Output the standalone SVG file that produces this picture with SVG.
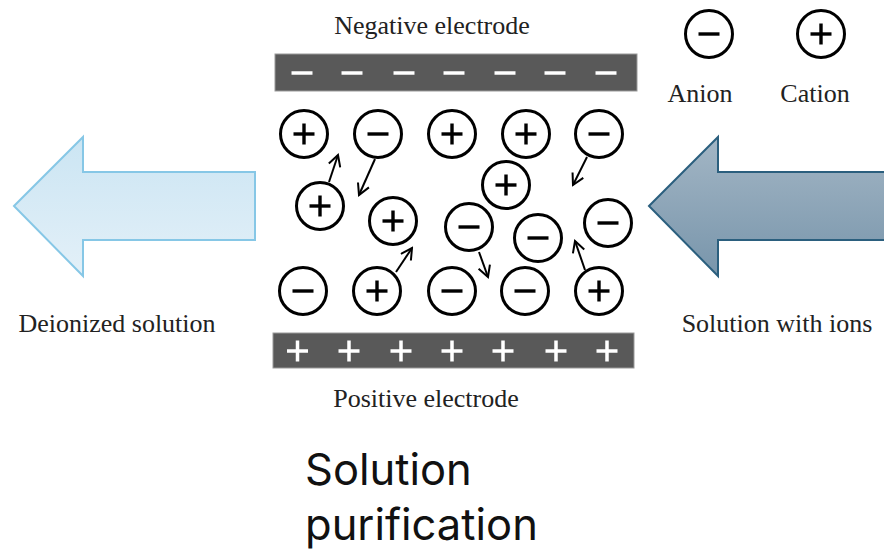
<svg xmlns="http://www.w3.org/2000/svg" width="884" height="549" viewBox="0 0 884 549">
  <defs>
    <linearGradient id="gLight" x1="0" y1="0" x2="0" y2="1">
      <stop offset="0" stop-color="#cbe5f3"/>
      <stop offset="1" stop-color="#e3f0f8"/>
    </linearGradient>
    <linearGradient id="gDark" x1="0" y1="0" x2="0" y2="1">
      <stop offset="0" stop-color="#a3b6c5"/>
      <stop offset="1" stop-color="#7895ab"/>
    </linearGradient>
    <marker id="head" viewBox="0 0 14 14" refX="12" refY="7" markerWidth="14" markerHeight="14" markerUnits="userSpaceOnUse" orient="auto">
      <path d="M1,1 L12,7 L1,13" fill="none" stroke="#000" stroke-width="2"/>
    </marker>
    <g id="anion">
      <circle r="23.5" fill="#fff" stroke="#000" stroke-width="3"/>
      <line x1="-10.5" y1="0" x2="10.5" y2="0" stroke="#000" stroke-width="3.4"/>
    </g>
    <g id="cation">
      <circle r="23.5" fill="#fff" stroke="#000" stroke-width="3"/>
      <line x1="-10.5" y1="0" x2="10.5" y2="0" stroke="#000" stroke-width="3.4"/>
      <line x1="0" y1="-10.5" x2="0" y2="10.5" stroke="#000" stroke-width="3.4"/>
    </g>
  </defs>
  <style>
    .lbl { font-family: "Liberation Serif", "Times New Roman", serif; font-size: 26px; fill: #222; }
    .big { font-family: Inter, "Noto Sans", sans-serif; font-size: 43.5px; fill: #111; }
    .elec { fill: #595959; stroke: #9a9a9a; stroke-width: 1; }
    .sign { stroke: #fff; stroke-width: 3.5; }
    .move { fill: none; stroke: #000; stroke-width: 2; marker-end: url(#head); }
  </style>

  <rect width="884" height="549" fill="#fff"/>

  <!-- flow arrows -->
  <g id="arrow-out">
    <polygon points="14,206 83,137 83,172 255,172 255,240 83,240 83,276" fill="url(#gLight)" stroke="#86c7e6" stroke-width="2"/>
  </g>
  <g id="arrow-in">
    <polygon points="649,206 718,137 718,172 890,172 890,240 718,240 718,276" fill="url(#gDark)" stroke="#2b5f7e" stroke-width="2"/>
  </g>

  <!-- electrodes -->
  <g id="negative-electrode">
    <rect class="elec" x="275" y="54" width="362" height="37"/>
    <g class="sign">
      <line x1="291.5" y1="73" x2="312.5" y2="73"/>
      <line x1="341.5" y1="73" x2="362.5" y2="73"/>
      <line x1="393.5" y1="73" x2="414.5" y2="73"/>
      <line x1="443.5" y1="73" x2="464.5" y2="73"/>
      <line x1="494.5" y1="73" x2="515.5" y2="73"/>
      <line x1="544.5" y1="73" x2="565.5" y2="73"/>
      <line x1="595.5" y1="73" x2="616.5" y2="73"/>
    </g>
  </g>
  <g id="positive-electrode">
    <rect class="elec" x="273" y="333" width="361" height="35"/>
    <g class="sign">
      <path d="M287,351h21M297.5,340.5v21"/>
      <path d="M338.5,351h21M349,340.5v21"/>
      <path d="M390.5,351h21M401,340.5v21"/>
      <path d="M441.5,351h21M452,340.5v21"/>
      <path d="M492.5,351h21M503,340.5v21"/>
      <path d="M545.5,351h21M556,340.5v21"/>
      <path d="M596.5,351h21M607,340.5v21"/>
    </g>
  </g>

  <!-- ions between the plates -->
  <g id="ions">
    <use href="#cation" x="304" y="134"/>
    <use href="#anion" x="378" y="134"/>
    <use href="#cation" x="452" y="134"/>
    <use href="#cation" x="526" y="134"/>
    <use href="#anion" x="599" y="134"/>
    <use href="#cation" x="320" y="206"/>
    <use href="#cation" x="393" y="221"/>
    <use href="#cation" x="506" y="185"/>
    <use href="#anion" x="469" y="227"/>
    <use href="#anion" x="538" y="238"/>
    <use href="#anion" x="608" y="223"/>
    <use href="#anion" x="303" y="291"/>
    <use href="#cation" x="377" y="291"/>
    <use href="#anion" x="452" y="291"/>
    <use href="#anion" x="525" y="291"/>
    <use href="#cation" x="599" y="291"/>
  </g>

  <!-- ion drift connectors -->
  <g id="connectors">
    <line class="move" x1="329" y1="182" x2="338" y2="155"/>
    <line class="move" x1="375" y1="159" x2="359" y2="195"/>
    <line class="move" x1="396" y1="272" x2="412" y2="248"/>
    <line class="move" x1="479" y1="252" x2="488" y2="277"/>
    <line class="move" x1="587" y1="157" x2="573" y2="185"/>
    <line class="move" x1="585" y1="270" x2="575" y2="241"/>
  </g>

  <!-- legend -->
  <g id="legend-anion">
    <use href="#anion" x="709" y="34"/>
    <text class="lbl" x="700" y="102" text-anchor="middle">Anion</text>
  </g>
  <g id="legend-cation">
    <use href="#cation" x="821" y="34"/>
    <text class="lbl" x="815" y="102" text-anchor="middle">Cation</text>
  </g>

  <!-- labels -->
  <text class="lbl" x="432" y="34" text-anchor="middle">Negative electrode</text>
  <text class="lbl" x="426" y="407" text-anchor="middle">Positive electrode</text>
  <text class="lbl" x="117" y="332" text-anchor="middle">Deionized solution</text>
  <text class="lbl" x="777" y="332" text-anchor="middle">Solution with ions</text>
  <text class="big" x="305" y="485">Solution</text>
  <text class="big" x="305" y="540">purification</text>
</svg>
